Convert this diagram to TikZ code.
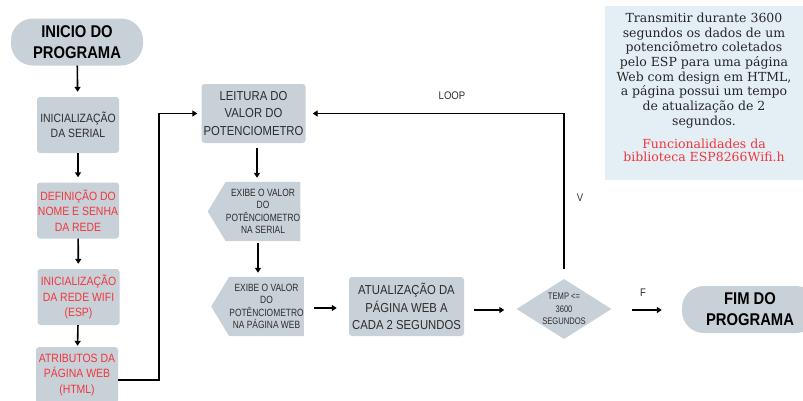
\documentclass[tikz,border=0pt]{standalone}
\usepackage{fontspec}
\newfontfamily\boxfont[FakeStretch=0.87]{Liberation Sans}
\newfontfamily\narrowfont[FakeStretch=0.8]{Liberation Sans}
\newfontfamily\infofont{DejaVu Serif}
\usetikzlibrary {positioning}
\usetikzlibrary {arrows.meta}
\usetikzlibrary {shapes.geometric}
\usetikzlibrary {backgrounds}
\definecolor{boxgray}{RGB}{200,208,216}
\definecolor{textgray}{RGB}{45,45,45}
\definecolor{redtext}{RGB}{240,55,60}
\definecolor{infoblue}{RGB}{228,238,245}

\begin{document}
\begin{tikzpicture}[x=1pt, y=-1pt,
      terminal/.style={fill=boxgray, rounded corners=22pt, minimum width=132pt, minimum height=47pt, align=center, inner sep=0pt, text=black, font=\boxfont\bfseries\fontsize{17}{21}\selectfont},
      process/.style={fill=boxgray, rounded corners=3pt, minimum width=82pt, minimum height=56pt, align=center, inner sep=0pt, text=textgray, font=\boxfont\fontsize{12}{15.5}\selectfont},
      redbox/.style={process, text=redtext},
      bigbox/.style={process, minimum width=104pt, minimum height=59pt, font=\boxfont\fontsize{13}{17.5}\selectfont},
      display/.style={minimum width=68pt, minimum height=59pt, inner sep=0pt, align=center, text=textgray, font=\narrowfont\fontsize{10.5}{12.5}\selectfont},
      decision/.style={diamond, fill=boxgray, minimum width=95pt, minimum height=60pt, aspect=1.6, inner sep=0pt, align=center, text=textgray, font=\narrowfont\fontsize{9.5}{12.5}\selectfont},
      label/.style={text=textgray, font=\boxfont\fontsize{11}{13}\selectfont},
      arrow/.style={line width=1.6pt, -{Triangle[length=5pt, width=6pt]}},
      link/.style={line width=1.6pt}
    ]
    \useasboundingbox (0,0) rectangle (803,400);
    \clip (0,0) rectangle (803,400);

    % info box
    \fill[infoblue] (605,6) rectangle (810,180);
    \node [align=center, text=black!85, font=\infofont\fontsize{12.5}{14.7}\selectfont] (info) at (704,70.5)
        {Transmitir durante 3600\\segundos os dados de um\\potenciômetro coletados\\pelo ESP para uma página\\Web com design em HTML,\\a página possui um tempo\\de atualização de 2\\segundos.};
    \node [align=center, text=redtext, font=\infofont\fontsize{12.5}{13.5}\selectfont] (lib) at (704,150.5)
        {Funcionalidades da\\biblioteca ESP8266Wifi.h};

    % left column
    \node [terminal] (inicio) at (77,42) {INICIO DO\\PROGRAMA};
    \node [process] (serial) at (78,125) {INICIALIZAÇÃO\\DA SERIAL};
    \node [redbox] (nome) at (78,210.5) {DEFINIÇÃO DO\\NOME E SENHA\\DA REDE};
    \node [redbox] (wifi) at (78.5,297) {INICIALIZAÇÃO\\DA REDE WIFI\\(ESP)};
    \node [redbox] (atributos) at (77,375) {ATRIBUTOS DA\\PÁGINA WEB\\(HTML)};

    % loop
    \node [bigbox] (leitura) at (253.5,113.5) {LEITURA DO\\VALOR DO\\POTENCIOMETRO};
    \node [display] (exserial) at (263,211.5) {EXIBE O VALOR\\DO\\POTÊNCIOMETRO\\NA SERIAL};
    \node [display, minimum width=67pt] (exweb) at (266.5,306.5) {EXIBE O VALOR\\DO\\POTÊNCIOMETRO\\NA PÁGINA WEB};
    \node [bigbox, minimum width=115pt] (atualiza) at (406.5,306.5) {ATUALIZAÇÃO DA\\PÁGINA WEB A\\CADA 2 SEGUNDOS};
    \node [decision] (temp) at (564,309) {TEMP <=\\3600\\SEGUNDOS};
    \node [terminal, minimum width=136pt] (fim) at (750,309.5) {FIM DO\\PROGRAMA};

    % display shapes
    \begin{scope}[on background layer]
    \fill[boxgray] (exserial.north east) -- (exserial.north west) -- ([xshift=-18pt]exserial.west)
        -- (exserial.south west) -- (exserial.south east) -- cycle;
    \fill[boxgray] (exweb.north east) -- (exweb.north west) -- ([xshift=-18pt]exweb.west)
        -- (exweb.south west) -- (exweb.south east) -- cycle;
    \end{scope}

    \node [label] (loop) at (452,96) {LOOP};
    \node [label] (v) at (580,198) {V};
    \node [label] (f) at (643,293) {F};

    % connectors
    \draw[arrow, shorten >=5pt] (inicio) to (serial);
    \draw[arrow, shorten >=5pt] (serial) to (nome);
    \draw[arrow, shorten >=5pt] (nome) to (wifi);
    \draw[arrow, shorten >=1pt] (wifi) to (atributos);
    \draw[arrow, shorten >=4pt] (atributos.east |- 0,380) -- (159,380) |- (leitura.west);
    \draw[arrow, shorten <=5pt, shorten >=4pt] (leitura.south -| 257,0) to (exserial.north -| 257,0);
    \draw[arrow, shorten <=2pt, shorten >=4pt] (exserial.south -| 258,0) to (exweb.north -| 258,0);
    \draw[arrow, shorten <=10pt, shorten >=12pt] (exweb.east |- 0,308) to (atualiza.west |- 0,308);
    \draw[arrow, shorten <=10pt, shorten >=12pt] (atualiza.east |- 0,310) to (temp.west |- 0,310);
    \draw[arrow, shorten <=10pt, shorten >=7pt] (temp.north) |- (leitura.east);
    \draw[arrow, shorten <=20pt, shorten >=20pt] (temp.east |- 0,310) to (fim.west |- 0,310);

\end{tikzpicture}
\end{document}
